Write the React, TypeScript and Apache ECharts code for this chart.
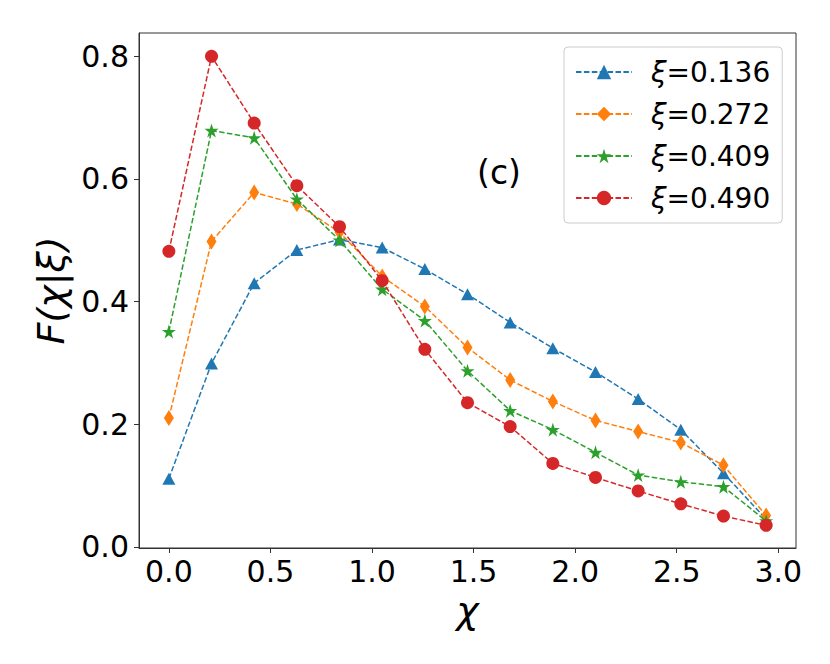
import React, { useEffect, useRef } from "react";
import * as echarts from "echarts";

const chi = [0, 0.21, 0.42, 0.63, 0.84, 1.05, 1.26, 1.47, 1.68, 1.89, 2.1, 2.31, 2.52, 2.73, 2.94];
const seriesNames = ["ξ=0.136", "ξ=0.272", "ξ=0.409", "ξ=0.490"];
const f136 = [0.111, 0.299, 0.43, 0.484, 0.501, 0.488, 0.453, 0.412, 0.366, 0.324, 0.285, 0.241, 0.191, 0.12, 0.045];
const f272 = [0.21, 0.498, 0.578, 0.559, 0.513, 0.441, 0.392, 0.325, 0.272, 0.237, 0.206, 0.188, 0.17, 0.133, 0.051];
const f409 = [0.351, 0.679, 0.667, 0.567, 0.5, 0.42, 0.369, 0.287, 0.222, 0.191, 0.154, 0.117, 0.106, 0.098, 0.042];
const f490 = [0.482, 0.8, 0.691, 0.589, 0.522, 0.434, 0.322, 0.235, 0.196, 0.136, 0.113, 0.091, 0.07, 0.05, 0.035];
const xTicks = [0, 0.5, 1.0, 1.5, 2.0, 2.5, 3.0];
const yTicks = [0, 0.2, 0.4, 0.6, 0.8];

const colors = ["#1f77b4", "#ff7f0e", "#2ca02c", "#d62728"];
const STAR =
  "path://M0,-100 L22.45,-30.9 L95.11,-30.9 L36.33,11.8 L58.78,80.9 L0,38.2 L-58.78,80.9 L-36.33,11.8 L-95.11,-30.9 L-22.45,-30.9 Z";
const symbols = ["triangle", "diamond", STAR, "circle"];
const symbolSizes: any[] = [[13, 12], [10, 16], 14, 13];
const FONT = "DejaVu Sans";

export default function App() {
  const ref = useRef<HTMLDivElement>(null);
  useEffect(() => {
    if (!ref.current) return;
    const chart = echarts.init(ref.current, null, { renderer: "svg" });
    const all = [f136, f272, f409, f490];
    const option: any = {
      animation: false,
      backgroundColor: "#fff",
      grid: {
        left: 139,
        top: 33,
        right: 34,
        bottom: 116,
        show: true,
        borderColor: "#333",
        borderWidth: 1,
        backgroundColor: "transparent",
      },
      legend: {
        orient: "vertical",
        left: 564,
        top: 47,
        padding: [9, 12, 9, 11],
        itemWidth: 56,
        itemHeight: 18,
        itemGap: 10,
        itemTextGap: 6,
        backgroundColor: "rgba(255,255,255,0.8)",
        borderColor: "#cccccc",
        borderWidth: 1,
        borderRadius: 4,
        data: seriesNames,
        formatter: (name: string) => "{s|}{i|ξ}{n|" + name.slice(1) + "}",
        textStyle: {
          fontFamily: FONT,
          fontSize: 28,
          color: "#000",
          lineHeight: 32,
          rich: {
            s: { width: 14, fontSize: 28 },
            i: { fontFamily: FONT, fontSize: 28, fontStyle: "italic", color: "#000" },
            n: { fontFamily: FONT, fontSize: 28, color: "#000" },
          },
        },
      },
      xAxis: {
        type: "value",
        min: -0.147,
        max: 3.087,
        name: "χ",
        nameLocation: "middle",
        nameGap: 39,
        nameTextStyle: { fontFamily: FONT, fontSize: 38, fontStyle: "italic", color: "#000" },
        axisLine: { show: true, onZero: false, lineStyle: { color: "#333", width: 1 } },
        axisTick: { show: true, inside: false, length: 5, customValues: xTicks, lineStyle: { color: "#333" } },
        axisLabel: {
          customValues: xTicks,
          formatter: (v: number) => v.toFixed(1),
          fontFamily: FONT,
          fontSize: 30,
          color: "#000",
          margin: 8,
        },
        splitLine: { show: false },
      },
      yAxis: {
        type: "value",
        min: -0.002,
        max: 0.838,
        name: "F(χ|ξ)",
        nameLocation: "middle",
        nameRotate: 90,
        nameGap: 63,
        nameTextStyle: { fontFamily: FONT, fontSize: 38, fontStyle: "italic", color: "#000" },
        axisLine: { show: true, onZero: false, lineStyle: { color: "#333", width: 1 } },
        axisTick: { show: true, inside: false, length: 5, customValues: yTicks, lineStyle: { color: "#333" } },
        axisLabel: {
          customValues: yTicks,
          formatter: (v: number) => v.toFixed(1),
          fontFamily: FONT,
          fontSize: 30,
          color: "#000",
          margin: 10,
        },
        splitLine: { show: false },
      },
      graphic: [
        {
          type: "text",
          x: 499,
          y: 172,
          style: {
            text: "(c)",
            fontFamily: FONT,
            fontSize: 33,
            fill: "#000",
            textAlign: "center",
            textVerticalAlign: "middle",
          },
          z: 10,
        },
      ],
      series: all.map((vals, i) => ({
        name: seriesNames[i],
        type: "line",
        data: vals.map((v, j) => [chi[j], v]),
        symbol: symbols[i],
        symbolSize: symbolSizes[i],
        showAllSymbol: true,
        color: colors[i],
        itemStyle: { color: colors[i] },
        lineStyle: { color: colors[i], width: 1.5, type: [5.5, 2.4] },
        z: 2 + i,
      })),
    };
    chart.setOption(option);
    return () => chart.dispose();
  }, []);
  return (
    <div
      ref={ref}
      style={{ position: "fixed", left: 0, top: 0, width: 830, height: 664 }}
    />
  );
}
